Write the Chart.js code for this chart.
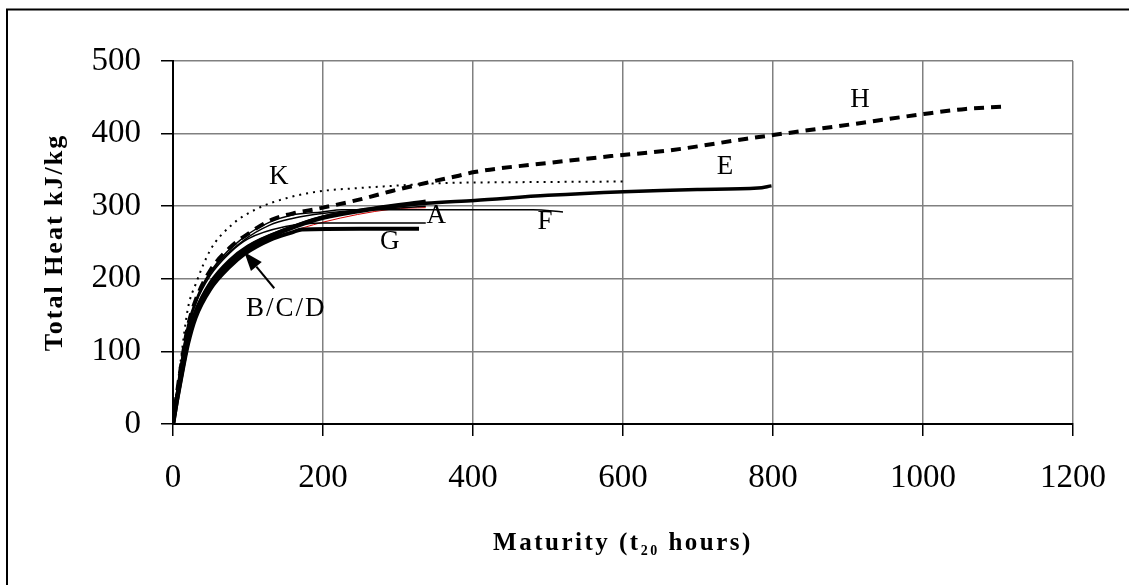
<!DOCTYPE html>
<html>
<head>
<meta charset="utf-8">
<script src="https://cdn.jsdelivr.net/npm/chart.js@4.4.1/dist/chart.umd.min.js"></script>
<style>
    html, body { margin: 0; padding: 0; background: #fff; }
    #wrap { width: 1129px; height: 585px; position: relative; }
</style>
</head>
<body>
<div id="wrap"><canvas id="heat-chart"></canvas></div>
<script>
// 轴刻度
const xTicks = [0, 200, 400, 600, 800, 1000, 1200];
const yTicks = [0, 100, 200, 300, 400, 500];

// 各曲线数据 (maturity t20 hours, total heat kJ/kg)
const kX = [0, 5, 10, 20, 30, 50, 78, 111, 151, 199, 248, 292, 367, 450, 601];
const kY = [0, 45, 85, 160, 192, 240, 274, 296, 311, 321, 325, 328, 332, 333, 334];

const hX = [0, 5, 10, 20, 30, 50, 75, 100, 133, 160, 195, 248, 292, 337, 381, 402, 504, 584, 663, 765, 800, 920, 1001, 1057, 1107];
const hY = [0, 40, 75, 135, 170, 212, 242, 262, 282, 290, 297, 309, 321, 332, 342, 347, 360, 369, 377, 393, 398, 415, 427, 434, 437];

const eX = [0, 5, 10, 20, 30, 50, 75, 100, 150, 199, 270, 337, 402, 500, 601, 699, 780, 798];
const eY = [0, 35, 65, 120, 155, 195, 225, 245, 268, 285, 297, 304, 308, 315, 320, 323, 325, 328];

const bX = [0, 5, 10, 20, 30, 50, 75, 100, 150, 199, 270, 337];
const bY = [0, 33, 62, 116, 152, 192, 222, 243, 267, 284, 297, 306];

const gX = [0, 5, 10, 20, 30, 50, 75, 95, 130, 159, 172, 250, 328];
const gY = [0, 30, 58, 110, 146, 186, 216, 234, 254, 264, 268, 269, 269];

const cX = [0, 5, 10, 20, 30, 50, 75, 100, 150, 200, 337];
const cY = [0, 40, 75, 130, 165, 205, 235, 255, 272, 277, 277];

const fX = [0, 5, 10, 20, 30, 50, 93, 129, 159, 199, 225, 480, 520];
const fY = [0, 45, 80, 138, 170, 210, 256, 278, 288, 292, 295, 295, 292];

const aX = [0, 5, 10, 20, 30, 50, 93, 129, 159, 199, 292, 337];
const aY = [0, 42, 78, 135, 168, 208, 252, 274, 283, 290, 297, 300];

const dX = [0, 5, 10, 20, 30, 50, 100, 150, 200, 292, 337];
const dY = [0, 30, 55, 108, 144, 185, 240, 262, 278, 296, 298];

// 曲线旁的标注 [文字, x, y]
const curveLabels = [
    ['K', 141, 340],
    ['A', 351, 287],
    ['F', 496, 278],
    ['G', 289, 251],
    ['E', 736, 354],
    ['H', 916, 446],
    ['B/C/D', 151, 158]
];
// 箭头: 尾部 -> 尖端
const arrowFrom = [135, 187];
const arrowTo = [95, 237];

const SERIF = "'Liberation Serif', 'Times New Roman', serif";

function toPoints(xs, ys) {
    return xs.map((x, i) => ({ x: x, y: ys[i] }));
}

function line(label, xs, ys, width, color, dash) {
    return {
        label: label,
        data: toPoints(xs, ys),
        showLine: true,
        borderColor: color,
        borderWidth: width,
        borderDash: dash || [],
        pointRadius: 0,
        pointHoverRadius: 0,
        fill: false,
        cubicInterpolationMode: 'monotone',
        borderCapStyle: 'butt'
    };
}

// 画外框、轴标题、曲线标注
const decorPlugin = {
    id: 'decor',
    beforeDraw(chart) {
        const ctx = chart.ctx;
        ctx.save();
        ctx.fillStyle = '#fff';
        ctx.fillRect(0, 0, chart.width, chart.height);
        ctx.restore();
    },
    afterDraw(chart) {
        const ctx = chart.ctx;
        const xs = chart.scales.x;
        const ys = chart.scales.y;
        const area = chart.chartArea;
        ctx.save();

        // 外框 (只露出左边和上边)
        ctx.strokeStyle = '#000';
        ctx.lineWidth = 2;
        ctx.beginPath();
        ctx.moveTo(7, chart.height + 10);
        ctx.lineTo(7, 9.5);
        ctx.lineTo(chart.width + 10, 9.5);
        ctx.stroke();

        // 曲线标注
        ctx.fillStyle = '#000';
        ctx.font = '27px ' + SERIF;
        ctx.textAlign = 'center';
        ctx.textBaseline = 'middle';
        curveLabels.forEach(([txt, x, y]) => {
            ctx.letterSpacing = txt.length > 1 ? '2px' : '0px';
            ctx.fillText(txt, xs.getPixelForValue(x), ys.getPixelForValue(y));
        });
        ctx.letterSpacing = '0px';

        // 箭头
        const x1 = xs.getPixelForValue(arrowFrom[0]), y1 = ys.getPixelForValue(arrowFrom[1]);
        const x2 = xs.getPixelForValue(arrowTo[0]), y2 = ys.getPixelForValue(arrowTo[1]);
        const ang = Math.atan2(y2 - y1, x2 - x1);
        const headLen = 19, headW = 7;
        const bx = x2 - headLen * Math.cos(ang), by = y2 - headLen * Math.sin(ang);
        ctx.strokeStyle = '#000';
        ctx.lineWidth = 2;
        ctx.beginPath();
        ctx.moveTo(x1, y1);
        ctx.lineTo(bx, by);
        ctx.stroke();
        ctx.beginPath();
        ctx.moveTo(x2, y2);
        ctx.lineTo(bx + headW * Math.sin(ang), by - headW * Math.cos(ang));
        ctx.lineTo(bx - headW * Math.sin(ang), by + headW * Math.cos(ang));
        ctx.closePath();
        ctx.fill();

        // Y 轴标题
        ctx.save();
        ctx.translate(55, (area.top + area.bottom) / 2);
        ctx.rotate(-Math.PI / 2);
        ctx.font = 'bold 26px ' + SERIF;
        ctx.letterSpacing = '2px';
        ctx.textAlign = 'center';
        ctx.textBaseline = 'middle';
        ctx.fillText('Total Heat kJ/kg', 0, 0);
        ctx.restore();

        // X 轴标题 (带下标)
        const partA = 'Maturity (t';
        const sub = '20';
        const partB = ' hours)';
        ctx.textAlign = 'left';
        ctx.textBaseline = 'alphabetic';
        ctx.letterSpacing = '2.5px';
        ctx.font = 'bold 25px ' + SERIF;
        const wA = ctx.measureText(partA).width;
        const wB = ctx.measureText(partB).width;
        ctx.font = 'bold 14px ' + SERIF;
        const wS = ctx.measureText(sub).width;
        const total = wA + wS + wB;
        let cx = (area.left + area.right) / 2 - total / 2;
        const base = 550;
        ctx.font = 'bold 25px ' + SERIF;
        ctx.fillText(partA, cx, base);
        cx += wA;
        ctx.font = 'bold 14px ' + SERIF;
        ctx.fillText(sub, cx, base + 5);
        cx += wS;
        ctx.font = 'bold 25px ' + SERIF;
        ctx.fillText(partB, cx, base);

        ctx.restore();
    }
};

const datasets = [
    line('K', kX, kY, 2, '#000', [2, 5]),
    line('H', hX, hY, 4, '#000', [10, 7]),
    line('A', aX, aY, 1.5, '#000'),
    line('F', fX, fY, 1.5, '#000'),
    line('C', cX, cY, 1.5, '#000'),
    line('E', eX, eY, 3.5, '#000'),
    line('B', bX, bY, 4.5, '#000'),
    line('G', gX, gY, 4, '#000'),
    line('D', dX, dY, 1, '#d00000')
];

new Chart(document.getElementById('heat-chart'), {
    type: 'scatter',
    data: { datasets: datasets },
    options: {
        responsive: true,
        maintainAspectRatio: false,
        animation: false,
        layout: { padding: { top: 61, right: 51, left: 0, bottom: 0 } },
        plugins: {
            legend: { display: false },
            tooltip: { enabled: false }
        },
        scales: {
            x: {
                type: 'linear',
                min: 0,
                max: 1200,
                afterFit(scale) { scale.height = 161; },
                afterBuildTicks(scale) { scale.ticks = xTicks.map(v => ({ value: v })); },
                grid: { color: '#808080', lineWidth: 1.5, tickColor: '#000', tickLength: 12, tickWidth: 1.5 },
                border: { display: true, color: '#000', width: 2 },
                ticks: {
                    color: '#000',
                    padding: 23,
                    maxRotation: 0,
                    font: { family: SERIF, size: 33 },
                    callback: v => String(v)
                }
            },
            y: {
                type: 'linear',
                min: 0,
                max: 500,
                afterFit(scale) { scale.width = 173; },
                afterBuildTicks(scale) { scale.ticks = yTicks.map(v => ({ value: v })); },
                grid: { color: '#808080', lineWidth: 1.5, tickColor: '#000', tickLength: 12, tickWidth: 1.5 },
                border: { display: true, color: '#000', width: 2 },
                ticks: {
                    color: '#000',
                    padding: 20,
                    font: { family: SERIF, size: 33 },
                    callback: v => String(v)
                }
            }
        }
    },
    plugins: [decorPlugin]
});
</script>
</body>
</html>
